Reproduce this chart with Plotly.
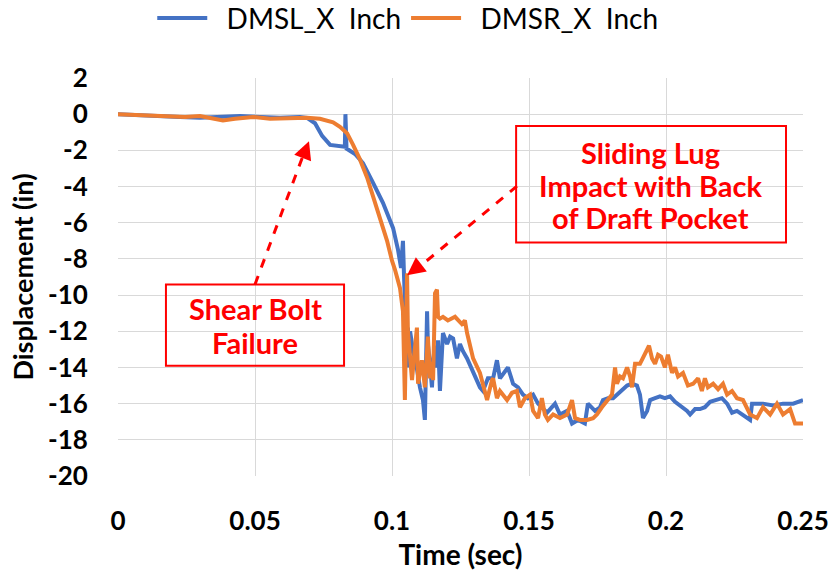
import plotly.graph_objects as go

# DMSL_X displacement history (blue)
dmsl_t = [0.0000, 0.0117, 0.0226, 0.0299, 0.0372, 0.0445, 0.0518, 0.0591, 0.0664, 0.0690,
          0.0719, 0.0745, 0.0774, 0.0810, 0.0828, 0.0830, 0.0834, 0.0865, 0.0894, 0.0931,
          0.0967, 0.1004, 0.1022, 0.1033, 0.1040, 0.1044, 0.1047, 0.1051, 0.1058, 0.1062,
          0.1066, 0.1077, 0.1088, 0.1102, 0.1113, 0.1120, 0.1128, 0.1131, 0.1139, 0.1146,
          0.1150, 0.1157, 0.1164, 0.1168, 0.1175, 0.1186, 0.1201, 0.1212, 0.1223, 0.1237,
          0.1248, 0.1259, 0.1274, 0.1296, 0.1321, 0.1332, 0.1350, 0.1369, 0.1383, 0.1394,
          0.1412, 0.1423, 0.1442, 0.1460, 0.1478, 0.1496, 0.1515, 0.1533, 0.1566, 0.1595,
          0.1613, 0.1639, 0.1657, 0.1679, 0.1704, 0.1715, 0.1741, 0.1759, 0.1770, 0.1788,
          0.1807, 0.1821, 0.1839, 0.1858, 0.1876, 0.1894, 0.1905, 0.1916, 0.1931, 0.1942,
          0.1960, 0.1978, 0.1996, 0.2015, 0.2033, 0.2051, 0.2077, 0.2088, 0.2106, 0.2124,
          0.2142, 0.2161, 0.2186, 0.2204, 0.2223, 0.2241, 0.2259, 0.2281, 0.2296, 0.2307,
          0.2314, 0.2354, 0.2391, 0.2427, 0.2464, 0.2500]
dmsl_x = [0.0, -0.05, -0.15, -0.2, -0.15, -0.1, -0.15, -0.2, -0.15, -0.2,
          -0.5, -1.2, -1.7, -1.75, -1.8, 0.0, -1.9, -2.2, -2.7, -3.8,
          -4.9, -6.3, -7.5, -8.5, -7.0, -9.0, -10.3, -14.0, -11.8, -14.0,
          -12.0, -13.1, -13.8, -15.1, -15.8, -16.9, -10.9, -12.7, -14.2, -15.1,
          -13.6, -12.8, -14.0, -12.5, -15.3, -12.1, -12.7, -12.3, -12.4, -13.5,
          -12.7, -13.1, -13.5, -14.2, -15.1, -15.3, -14.6, -14.6, -13.6, -14.6,
          -14.2, -14.0, -14.9, -15.1, -15.5, -15.7, -15.5, -16.0, -16.5, -16.0,
          -16.6, -16.4, -17.1, -16.9, -17.1, -16.0, -16.4, -16.2, -15.8, -15.7,
          -15.7, -15.5, -15.3, -15.0, -14.9, -15.0, -15.5, -16.8, -16.4, -15.8,
          -15.7, -15.6, -15.7, -15.6, -15.9, -16.1, -16.4, -16.6, -16.3, -16.3,
          -16.2, -15.9, -15.8, -15.7, -16.0, -16.5, -16.4, -16.6, -16.8, -16.9,
          -16.0, -16.0, -16.1, -16.0, -16.0, -15.8]

# DMSR_X displacement history (orange)
dmsr_t = [0.0000, 0.0117, 0.0190, 0.0245, 0.0299, 0.0336, 0.0383, 0.0427, 0.0493, 0.0555,
          0.0628, 0.0690, 0.0737, 0.0785, 0.0810, 0.0836, 0.0858, 0.0883, 0.0909, 0.0931,
          0.0956, 0.0982, 0.1000, 0.1011, 0.1029, 0.1040, 0.1047, 0.1055, 0.1058, 0.1066,
          0.1073, 0.1080, 0.1091, 0.1095, 0.1109, 0.1120, 0.1131, 0.1139, 0.1144, 0.1150,
          0.1157, 0.1164, 0.1168, 0.1175, 0.1186, 0.1204, 0.1230, 0.1255, 0.1266, 0.1274,
          0.1296, 0.1321, 0.1347, 0.1365, 0.1369, 0.1383, 0.1394, 0.1420, 0.1438, 0.1456,
          0.1467, 0.1485, 0.1504, 0.1515, 0.1533, 0.1547, 0.1558, 0.1569, 0.1588, 0.1613,
          0.1639, 0.1657, 0.1668, 0.1686, 0.1712, 0.1734, 0.1748, 0.1766, 0.1785, 0.1803,
          0.1814, 0.1821, 0.1832, 0.1843, 0.1858, 0.1869, 0.1876, 0.1887, 0.1905, 0.1916,
          0.1931, 0.1938, 0.1949, 0.1960, 0.1971, 0.1982, 0.1996, 0.2007, 0.2022, 0.2033,
          0.2044, 0.2062, 0.2080, 0.2099, 0.2117, 0.2131, 0.2142, 0.2153, 0.2172, 0.2190,
          0.2208, 0.2223, 0.2241, 0.2259, 0.2281, 0.2307, 0.2332, 0.2354, 0.2380, 0.2405,
          0.2427, 0.2453, 0.2471, 0.2500]
dmsr_x = [0.0, -0.05, -0.1, -0.15, -0.1, -0.2, -0.35, -0.25, -0.15, -0.25,
          -0.2, -0.2, -0.25, -0.45, -0.7, -1.05, -1.7, -2.5, -3.5, -4.6,
          -5.8, -7.0, -8.1, -8.6, -9.6, -10.9, -15.8, -8.8, -12.0, -13.8,
          -14.7, -13.5, -11.8, -14.9, -13.6, -15.1, -12.3, -14.6, -13.7, -14.7,
          -9.9, -9.7, -11.2, -11.3, -11.2, -11.4, -11.2, -11.6, -11.4, -12.1,
          -13.5, -14.3, -15.8, -14.7, -14.6, -15.7, -15.3, -15.8, -15.4, -15.3,
          -16.2, -15.7, -15.5, -16.4, -16.8, -15.7, -16.6, -16.9, -16.6, -16.8,
          -16.6, -15.8, -16.8, -16.9, -16.9, -16.8, -16.6, -16.2, -15.8, -15.5,
          -14.0, -14.9, -14.5, -14.6, -14.0, -14.5, -15.1, -13.8, -13.8, -13.5,
          -13.1, -12.8, -13.5, -13.8, -13.3, -13.4, -14.0, -13.3, -14.3, -14.0,
          -14.5, -14.3, -15.0, -14.9, -14.6, -15.3, -14.6, -15.1, -14.9, -15.2,
          -14.9, -15.5, -15.3, -15.7, -15.8, -16.6, -16.8, -16.2, -16.6, -16.0,
          -16.6, -16.3, -17.1, -17.1]

series_names = ["DMSL_X  Inch", "DMSR_X  Inch"]
series_colors = ["#4472C4", "#ED7D31"]

x_ticks = [0, 0.05, 0.1, 0.15, 0.2, 0.25]
x_tick_text = ["0", "0.05", "0.1", "0.15", "0.2", "0.25"]
y_ticks = [2, 0, -2, -4, -6, -8, -10, -12, -14, -16, -18, -20]
y_tick_text = ["2", "0", "-2", "-4", "-6", "-8", "-10", "-12", "-14", "-16", "-18", "-20"]

RED = "#FF0000"
GRID = "#D9D9D9"
FONT = "Lato"
PAD = "\u00a0\u00a0"  # gap between legend swatch and label

fig = go.Figure()
for t, d, name, color in [(dmsl_t, dmsl_x, series_names[0], series_colors[0]),
                          (dmsr_t, dmsr_x, series_names[1], series_colors[1])]:
    fig.add_trace(go.Scatter(x=t, y=d, mode="lines", name=PAD + name,
                             line=dict(color=color, width=4)))

# callout boxes
fig.add_shape(type="rect", xref="x", yref="y", x0=0.0175, x1=0.0825, y0=-9.41, y1=-13.9,
              line=dict(color=RED, width=2))
fig.add_shape(type="rect", xref="x", yref="y", x0=0.1453, x1=0.2438, y0=-0.66, y1=-7.09,
              line=dict(color=RED, width=2))

# callout text, one annotation per line for tight line spacing
callout_font = dict(family=FONT, size=29, color=RED)
for text, yv in [("Shear Bolt", -10.75), ("Failure", -12.63)]:
    fig.add_annotation(x=0.05, y=yv, xref="x", yref="y", showarrow=False,
                       text=f"<b>{text}</b>", font=callout_font)
for text, yv in [("Sliding Lug", -2.1), ("Impact with Back", -3.93), ("of Draft Pocket", -5.7)]:
    fig.add_annotation(x=0.1945, y=yv, xref="x", yref="y", showarrow=False,
                       text=f"<b>{text}</b>", font=callout_font)

# dashed leader lines
fig.add_shape(type="line", xref="x", yref="y", x0=0.05, y0=-9.41, x1=0.0680, y1=-2.1,
              line=dict(color=RED, width=3, dash="dash"))
fig.add_shape(type="line", xref="x", yref="y", x0=0.1456, y0=-3.98, x1=0.1095, y1=-8.5,
              line=dict(color=RED, width=3, dash="dash"))
# arrow heads
fig.add_annotation(x=0.0697, y=-1.49, xref="x", yref="y", text="", showarrow=True,
                   arrowhead=2, arrowsize=1.2, arrowwidth=3, arrowcolor=RED,
                   ax=-6, ay=16)
fig.add_annotation(x=0.1055, y=-8.91, xref="x", yref="y", text="", showarrow=True,
                   arrowhead=2, arrowsize=1.2, arrowwidth=3, arrowcolor=RED,
                   ax=13, ay=-10)

fig.update_layout(
    width=835, height=578,
    margin=dict(l=118, r=32, t=78, b=102, autoexpand=False),
    paper_bgcolor="white", plot_bgcolor="white",
    font=dict(family=FONT, color="black"),
    legend=dict(orientation="h", x=0.423, xanchor="center", y=1.15, yanchor="middle",
                font=dict(family=FONT, size=28, color="black"),
                itemwidth=50),
    showlegend=True,
)
fig.update_xaxes(range=[0, 0.25], tickvals=x_ticks, ticktext=x_tick_text,
                 showgrid=True, gridcolor=GRID, gridwidth=1.3, zeroline=False,
                 automargin=False,
                 ticks="outside", ticklen=22, tickcolor="rgba(0,0,0,0)",
                 tickfont=dict(family=FONT, size=26, color="black", weight="bold"),
                 title=dict(text="<b>Time (sec)</b>", font=dict(family=FONT, size=28),
                            standoff=10))
fig.update_yaxes(range=[-20, 2], tickvals=y_ticks, ticktext=y_tick_text,
                 showgrid=True, gridcolor=GRID, gridwidth=1.3, zeroline=False,
                 automargin=False,
                 ticks="outside", ticklen=24, tickcolor="rgba(0,0,0,0)",
                 tickfont=dict(family=FONT, size=26, color="black", weight="bold"),
                 title=dict(text="<b>Displacement (in)</b>", font=dict(family=FONT, size=27),
                            standoff=6))

fig.write_html("out.html")
